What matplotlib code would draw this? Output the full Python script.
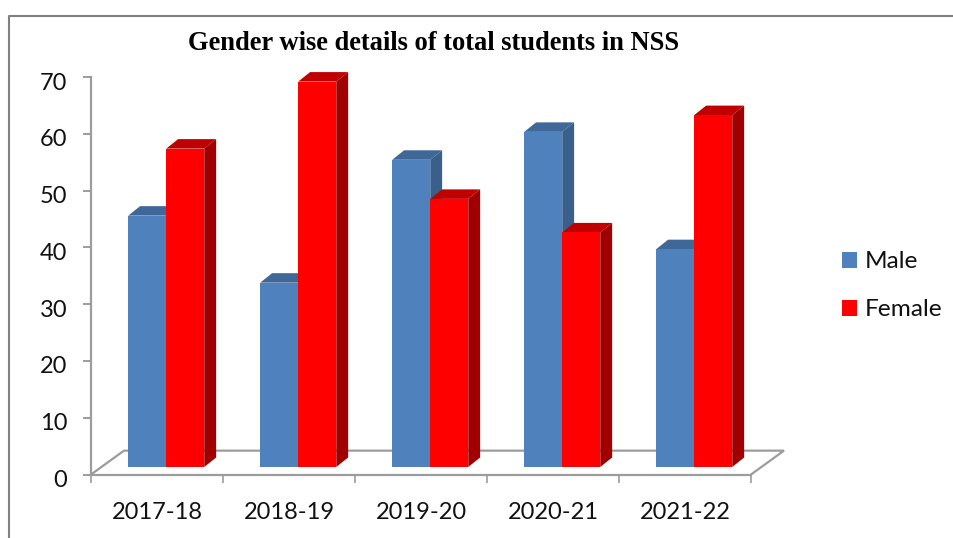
import matplotlib
matplotlib.use("Agg")
import matplotlib.pyplot as plt
from matplotlib.lines import Line2D
from matplotlib.patches import Patch, Polygon
from matplotlib.transforms import ScaledTranslation

years = ["2017-18", "2018-19", "2019-20", "2020-21", "2021-22"]
male = [45, 33, 55, 60, 39]
female = [57, 69, 48, 42, 63]
y_ticks = [0, 10, 20, 30, 40, 50, 60, 70]

W, H = 954, 538
GREY = "#9c9c9c"
TEXT = "#111111"

plt.rcParams["font.family"] = ["Lato", "DejaVu Sans"]


def box(left, right, top, bottom):
    return [left / W, 1 - bottom / H, (right - left) / W, (bottom - top) / H]


fig = plt.figure(figsize=(W / 100, H / 100), dpi=100)

# axis lines and floor
ax = fig.add_axes(box(91, 751, 77, 474.5))
ax.set_xlim(0, 5)
ax.set_ylim(0, 70)
for side in ["top", "right"]:
    ax.spines[side].set_visible(False)
for side in ["left", "bottom"]:
    ax.spines[side].set_color(GREY)
    ax.spines[side].set_linewidth(1.6)
ax.set_yticks(y_ticks)
ax.set_xticks(range(6))
ax.set_xticklabels([])
ax.set_xticks([i + 0.5 for i in range(5)], labels=years, minor=True)
ax.tick_params(axis="y", length=6, width=1.4, color=GREY, pad=11, labelsize=17, labelcolor=TEXT)
ax.tick_params(axis="x", which="major", length=6, width=1.2, color=GREY)
ax.tick_params(axis="x", which="minor", length=0, pad=20, labelsize=17, labelcolor=TEXT)
# the y labels sit a bit under their ticks in the original
shift = ScaledTranslation(0, -4 / 100, fig.dpi_scale_trans)
for label in ax.get_yticklabels():
    label.set_transform(label.get_transform() + shift)
ax.add_patch(Polygon([(0, 0), (0.25, 4.2), (5.25, 4.2), (5, 0)], closed=False, fill=False,
                     edgecolor=GREY, linewidth=1.6, clip_on=False))

# bars sit a little inside the floor, on their own scale
bx = fig.add_axes(box(91, 751, 76, 467))
bx.set_xlim(0, 5)
bx.set_ylim(0, 70)
bx.axis("off")

width = 0.288
dx = 0.09
dy = 1.7


def draw_bars(values, offset, front, side, top, z):
    xs = [i + 0.57 + offset for i in range(len(values))]
    bx.bar(xs, values, width=width, color=front, edgecolor="none", zorder=z + 1)
    for x, v in zip(xs, values):
        r = x + width / 2
        l = x - width / 2
        bx.add_patch(Polygon([(r, 0), (r + dx, dy), (r + dx, v + dy), (r, v)],
                             facecolor=side, edgecolor="none", zorder=z, clip_on=False))
        bx.add_patch(Polygon([(l, v), (l + dx, v + dy), (r + dx, v + dy), (r, v)],
                             facecolor=top, edgecolor="none", zorder=z, clip_on=False))


draw_bars(male, -width / 2, "#4F81BD", "#3A5F8B", "#3F6797", 2)
draw_bars(female, width / 2, "#FF0000", "#A00000", "#C00000", 4)

fig.text(433.5 / W, 1 - 43.5 / H, "Gender wise details of total students in NSS", ha="center", va="center",
         family="Liberation Serif", fontweight="bold", fontsize=19.1, color="black")

handles = [Patch(facecolor="#4F81BD", label="Male"), Patch(facecolor="#FF0000", label="Female")]
fig.legend(handles=handles, loc="upper left", bbox_to_anchor=(835 / W, 1 - 244 / H), frameon=False,
           fontsize=17.6, handlelength=0.62, handleheight=0.62, handletextpad=0.3, labelspacing=1.1,
           labelcolor=TEXT, borderpad=0.3, borderaxespad=0)

# outer chart border, only top and left are in the crop
fig.add_artist(Line2D([9 / W, 9 / W, 1], [0, 1 - 16 / H, 1 - 16 / H], color="#808080", linewidth=1.5))

fig.savefig("out.png", dpi=100)
